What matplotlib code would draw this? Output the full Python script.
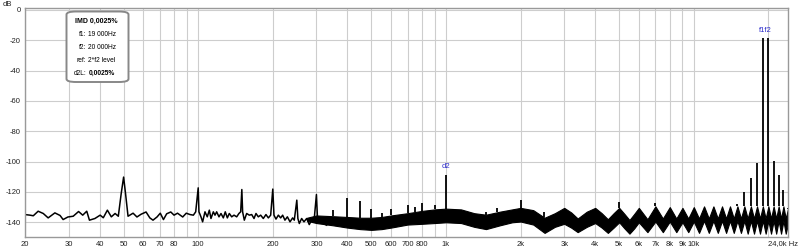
import numpy as np
import matplotlib
matplotlib.use('Agg')
import matplotlib.pyplot as plt
from matplotlib.patches import FancyBboxPatch

# ---------------- data ----------------
# low-frequency trace (thin line), Hz / dB
LF_FREQ = [20, 20.95, 21.6, 22.6, 23.7, 24.8, 26.4, 27.7, 28.5, 29.8, 31.3, 32.9,
           34.2, 35.5, 36.4, 38.3, 40.2, 41.4, 43.0, 44.6, 46.2, 47.6, 48.9, 50.0,
           50.9, 52.1, 54.6, 56.6, 58.8, 61.6, 63.8, 65.7, 68.2, 70.3, 72.4, 74.6,
           77.5, 79.9, 82.5, 86.6, 89.5, 92.7, 95.6, 97.7, 100.0, 100.7, 102.6,
           104.2, 106.5, 108.8, 110.9, 112.6, 115.1, 116.9, 118.7, 121.3, 123.6,
           126.3, 128.6, 131.1, 133.5, 136.5, 139.5, 143.0, 146.0, 148.4, 150.0,
           151.1, 153.5, 156.9, 160.8, 164.4, 168.0, 171.1, 174.8, 178.7, 183.1,
           187.7, 191.9, 196.1, 200.0, 202.2, 206.0, 210.6, 215.2, 219.2, 223.9,
           229.0, 234.7, 240.5, 244.2, 250.0, 252.5, 255.9, 261.5, 267.2, 274.0,
           280.7, 286.9, 293.2, 300.0, 303.4, 310.1, 319.8, 329.9]
LF_DB = [-134.9, -135.3, -135.7, -132.7, -134.2, -137.1, -133.8, -135.5, -138.2,
         -136.5, -136.0, -132.9, -135.3, -132.7, -138.6, -137.5, -135.3, -137.0,
         -132.0, -136.4, -134.2, -136.0, -121.0, -110.2, -121.0, -136.0, -134.0,
         -136.5, -134.7, -133.2, -137.1, -138.6, -136.5, -134.0, -138.2, -134.4,
         -133.2, -135.3, -134.0, -136.5, -134.0, -134.9, -135.3, -133.1, -117.3,
         -133.1, -136.4, -139.7, -133.1, -136.4, -132.0, -137.5, -133.1, -135.3,
         -133.1, -136.4, -134.2, -137.1, -133.1, -137.1, -134.2, -136.4, -135.3,
         -136.4, -134.2, -133.1, -118.4, -133.1, -138.6, -134.2, -135.3, -134.9,
         -137.5, -134.2, -136.4, -135.3, -137.5, -134.9, -137.1, -135.3, -118.1,
         -135.3, -137.9, -135.3, -137.1, -135.3, -138.6, -136.4, -139.7, -137.1,
         -138.6, -125.4, -137.5, -140.8, -137.5, -139.7, -137.5, -141.5, -138.6,
         -139.7, -121.7, -139.7, -137.5, -140.8, -141.9]

# dense noise band (upper / lower envelope), Hz / dB
BAND_F = [275, 300, 350, 400, 450, 500, 550, 600, 700, 800, 900, 1000, 1150, 1300,
          1450, 1650, 1850, 2000, 2250, 2500, 2750, 3000, 3200, 3400, 3700, 4000,
          4250, 4500, 4750, 5000, 5250, 5500, 5750, 6000, 6500, 7000, 7500, 8000,
          8500, 9000, 9500, 10000, 10500, 11000, 11500, 12000, 12500, 13000,
          13500, 14000, 14500, 15000, 15500, 16000, 16500, 17000, 17500, 18000,
          18500, 19000, 19500, 20000, 20500, 21000, 21500, 22000, 22500, 23000,
          23500, 24000]
BAND_HI = [-137.0, -135.5, -136.0, -136.5, -137.0, -137.0, -136.5, -135.5, -134.0,
           -132.5, -131.5, -131.0, -131.5, -134.0, -135.0, -133.0, -131.5, -130.5,
           -132.0, -137.0, -134.0, -130.5, -133.5, -137.5, -133.0, -130.5, -134.0,
           -138.0, -134.0, -130.5, -134.5, -138.5, -134.5, -130.5, -138.0, -129.5,
           -137.5, -130.0, -137.5, -130.5, -137.5, -130.0, -137.5, -129.5, -137.5,
           -129.5, -137.5, -129.5, -137.5, -129.5, -137.5, -129.5, -137.5, -129.5,
           -137.5, -129.5, -137.5, -129.5, -137.5, -129.5, -137.5, -129.5, -137.5,
           -129.5, -137.5, -129.5, -137.5, -129.5, -137.5, -131.0]
BAND_LO = [-139.0, -140.5, -142.0, -143.5, -144.5, -145.0, -144.5, -143.5, -141.5,
           -141.0, -140.5, -140.0, -140.5, -143.0, -144.5, -142.0, -140.0, -139.5,
           -141.5, -147.0, -143.0, -141.0, -143.5, -146.5, -143.0, -140.5, -143.5,
           -147.0, -143.5, -140.0, -144.0, -147.5, -144.0, -140.0, -146.5, -139.5,
           -146.5, -139.5, -146.5, -140.0, -146.5, -139.5, -147.0, -139.0, -147.0,
           -139.0, -147.0, -139.0, -147.0, -139.0, -147.0, -139.0, -147.0, -139.0,
           -147.5, -139.0, -147.5, -139.0, -147.5, -139.0, -147.5, -139.0, -147.5,
           -139.0, -147.5, -139.0, -147.5, -139.0, -147.5, -141.0]

# discrete spectral lines above the band, Hz / dB
SPIKE_F = [350, 400, 450, 500, 550, 600, 700, 750, 800, 900, 1000, 1450, 1600,
           2000, 2490, 5000, 7000, 15000, 16000, 17000, 18000, 19000, 20000, 21000,
           22000, 23000, 23980]
SPIKE_DB = [-131.8, -123.8, -126.0, -131.0, -134.0, -131.4, -128.7, -129.8, -127.6,
            -128.7, -108.5, -133.5, -130.5, -125.0, -133.1, -126.5, -127.6, -128.0,
            -120.0, -110.6, -100.7, -18.7, -18.7, -99.9, -109.1, -118.5, -130.9]

GRID_F = [20, 30, 40, 50, 60, 70, 80, 90, 100, 200, 300, 400, 500, 600, 700, 800,
          900, 1000, 2000, 3000, 4000, 5000, 6000, 7000, 8000, 9000, 10000, 20000]
GRID_LABELS = ["20", "30", "40", "50", "60", "70", "80", "", "100", "200", "300",
               "400", "500", "600", "700", "800", "", "1k", "2k", "3k", "4k", "5k",
               "6k", "7k", "8k", "9k", "10k", ""]
Y_TICKS = [0, -20, -40, -60, -80, -100, -120, -140]

INFO_ROWS = [("f1:", "19 000Hz"), ("f2:", "20 000Hz"), ("ref:", "2*f2 level"),
             ("d2L:", "0,0025%")]

# ---------------- figure ----------------
plt.rcParams['font.family'] = ['Liberation Sans', 'DejaVu Sans']
W, H = 800, 252
fig = plt.figure(figsize=(W / 100, H / 100), dpi=100)
fig.patch.set_facecolor('white')
ax = fig.add_axes([25 / W, 1 - 237 / H, (788 - 25) / W, (237 - 8) / H])
ax.set_xscale('log')
ax.set_xlim(20, 24000)
ax.set_ylim(-149.7, 1.3)

ax.xaxis.set_minor_locator(matplotlib.ticker.NullLocator())
ax.set_xticks(GRID_F)
ax.set_xticklabels(GRID_LABELS)
ax.set_yticks(Y_TICKS)
ax.set_yticklabels([str(v) for v in Y_TICKS])
ax.tick_params(axis='both', length=0, labelsize=5.5, colors='#222222')
ax.tick_params(axis='x', pad=3)
ax.tick_params(axis='y', pad=3)
ax.grid(True, color='#cdcdcd', linewidth=0.8)
ax.set_axisbelow(True)
for s in ax.spines.values():
    s.set_color('#999999')
    s.set_linewidth(1.0)

# noise band
ax.fill_between(BAND_F, BAND_LO, BAND_HI, color='black', linewidth=0.8,
                edgecolor='black')
# low-frequency trace
ax.plot(LF_FREQ, LF_DB, color='black', linewidth=1.1)
# spectral lines
base = np.interp(np.log10(SPIKE_F), np.log10(BAND_F), BAND_HI)
ax.vlines(SPIKE_F, base, SPIKE_DB, color='black', linewidth=1.3)

# labels
blue = '#2b2bcc'
ax.annotate('d2', (1000, SPIKE_DB[SPIKE_F.index(1000)]), xytext=(0, 3),
            textcoords='offset points', ha='center', va='bottom', color=blue,
            fontsize=5.5)
fgeo = np.sqrt(19000 * 20000)
ax.annotate('f1f2', (fgeo, SPIKE_DB[SPIKE_F.index(19000)]), xytext=(0, 3),
            textcoords='offset points', ha='center', va='bottom', color=blue,
            fontsize=5.5)

fig.text(3 / W, 1 - 4 / H, 'dB', fontsize=5.5, ha='left', va='center',
         color='#222222')
fig.text(798 / W, 1 - 244 / H, '24,0k Hz', fontsize=5.5, ha='right',
         va='center', color='#222222')

# info box
bx0, by0, bx1, by1 = 66.5, 11.5, 128.5, 82.0
box = FancyBboxPatch((bx0 / W, 1 - by1 / H), (bx1 - bx0) / W, (by1 - by0) / H,
                     boxstyle='round,pad=0,rounding_size=0.012',
                     transform=fig.transFigure, facecolor='white',
                     edgecolor='#888888', linewidth=1.4, zorder=10)
fig.add_artist(box)
fig.text(96.5 / W, 1 - 21 / H, 'IMD 0,0025%', fontsize=5.0, fontweight='bold',
         ha='center', va='center', zorder=11)
row_y = [34.5, 47.5, 60.5, 73.5]
for i, (lab, val) in enumerate(INFO_ROWS):
    fig.text(86 / W, 1 - row_y[i] / H, lab, fontsize=4.8, ha='right',
             va='center', zorder=11)
    fig.text(88.5 / W, 1 - row_y[i] / H, val, fontsize=4.8, ha='left',
             va='center', zorder=11,
             fontweight='bold' if i == 3 else 'normal')

fig.savefig('out.png', dpi=100)
